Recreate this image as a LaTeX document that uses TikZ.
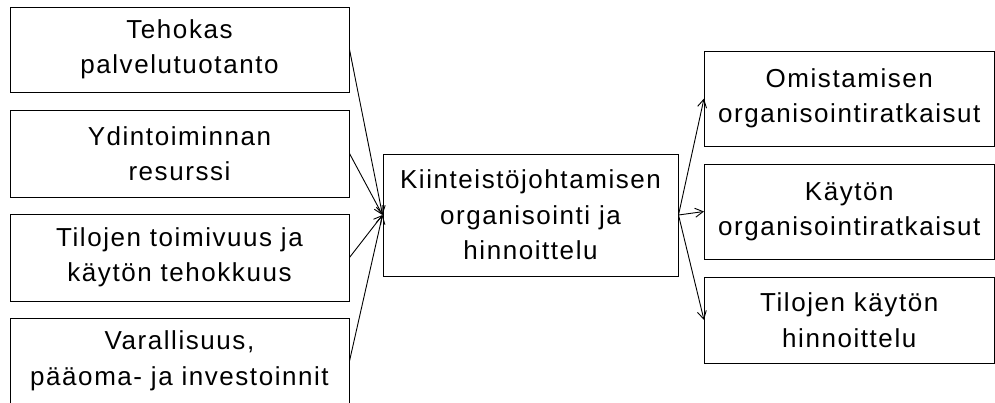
\documentclass[tikz,border=0pt]{standalone}
\usepackage{fontspec}
\setmainfont{Liberation Sans}[LetterSpace=6]
\usetikzlibrary{arrows.meta}
\tikzset{
  box/.style={draw=black, line width=1pt, inner sep=0pt, align=center,
    font=\fontsize{26pt}{35.5pt}\selectfont},
  conn/.style={line width=0.9pt, -{Straight Barb[length=8pt,width=9pt,line width=0.9pt]}}
}
\begin{document}
\begin{tikzpicture}[x=1pt,y=-1pt]
\useasboundingbox (0,0) rectangle (995,402);
\clip (0,0) rectangle (995,402);
% left boxes
\node[box, minimum width=339pt, minimum height=85pt] (L1) at (179.5,49.5) {Tehokas\\palvelutuotanto};
\node[box, minimum width=339pt, minimum height=87pt] (L2) at (179.5,153.5) {Ydintoiminnan\\resurssi};
\node[box, minimum width=339pt, minimum height=87pt] (L3) at (179.5,257.5) {Tilojen toimivuus ja\\käytön tehokkuus};
\node[box, minimum width=339pt, minimum height=86pt] (L4) at (179.5,361) {Varallisuus,\\pääoma- ja investoinnit};
% center
\node[box, minimum width=295pt, minimum height=122pt] (C) at (530.5,215) {Kiinteistöjohtamisen\\organisointi ja\\hinnoittelu};
% right boxes
\node[box, minimum width=289.5pt, minimum height=95pt] (R1) at (849.25,98.5) {Omistamisen\\organisointiratkaisut};
\node[box, minimum width=289.5pt, minimum height=95pt] (R2) at (849.25,211.5) {Käytön\\organisointiratkaisut};
\node[box, minimum width=289.5pt, minimum height=86pt] (R3) at (849.25,320) {Tilojen käytön\\hinnoittelu};
% connectors
\foreach \n in {L1,L2,L3,L4} \draw[conn] (\n.east) -- (C.west);
\foreach \n in {R1,R2,R3} \draw[conn] (C.east) -- (\n.west);
\end{tikzpicture}
\end{document}
